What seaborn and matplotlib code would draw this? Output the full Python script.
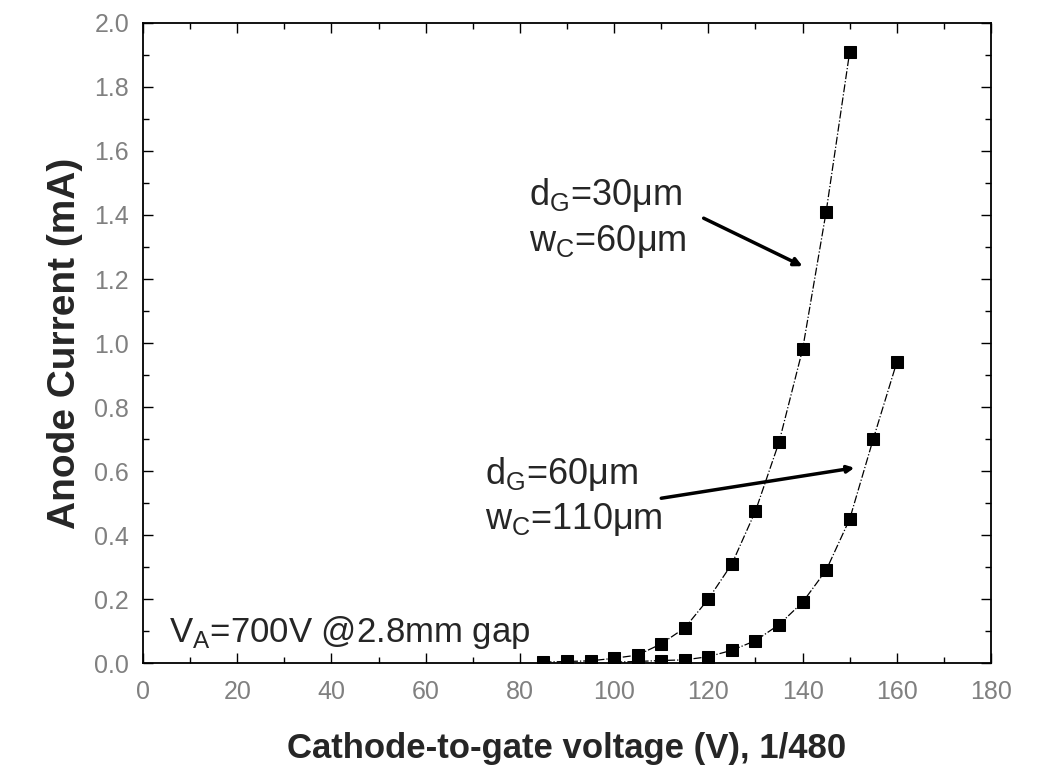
import matplotlib
matplotlib.use("Agg")
from matplotlib import pyplot as plt
from matplotlib.ticker import MultipleLocator
import numpy as np
import seaborn as sns
import pandas as pd

# data
volt_30 = [85, 90, 95, 100, 105, 110, 115, 120, 125, 130, 135, 140, 145, 150]
curr_30 = [0.003, 0.005, 0.007, 0.015, 0.025, 0.06, 0.11, 0.20, 0.31, 0.475, 0.69, 0.98, 1.41, 1.91]

volt_60 = [100, 105, 110, 115, 120, 125, 130, 135, 140, 145, 150, 155, 160]
curr_60 = [0.003, 0.005, 0.008, 0.01, 0.02, 0.04, 0.07, 0.12, 0.19, 0.29, 0.45, 0.70, 0.94]

x_ticks = [0, 20, 40, 60, 80, 100, 120, 140, 160, 180]
y_ticks = [0.0, 0.2, 0.4, 0.6, 0.8, 1.0, 1.2, 1.4, 1.6, 1.8, 2.0]

sns.set_theme(style="ticks")
plt.rcParams['font.family'] = ['Liberation Sans', 'DejaVu Sans']

df30 = pd.DataFrame({'voltage': volt_30, 'current': curr_30})
df60 = pd.DataFrame({'voltage': volt_60, 'current': curr_60})

fig = plt.figure(figsize=(10.41, 7.81), dpi=100)
ax = fig.add_axes([0.1374, 0.151, 0.8146, 0.8196])

for d in (df30, df60):
    sns.lineplot(data=d, x='voltage', y='current', ax=ax, color='black',
                 linestyle='-.', linewidth=0.9, marker='s', markersize=8.5,
                 markeredgecolor='black', markerfacecolor='black')

ax.set_xlim(0, 180)
ax.set_ylim(0, 2.0)
ax.set_xticks(x_ticks)
ax.set_yticks(y_ticks)
ax.set_xticklabels([str(t) for t in x_ticks])
ax.set_yticklabels(['%.1f' % t for t in y_ticks])
ax.xaxis.set_minor_locator(MultipleLocator(10))
ax.yaxis.set_minor_locator(MultipleLocator(0.1))
ax.tick_params(which='both', direction='in', top=True, right=True,
               labelsize=18, labelcolor='#808080', color='black')
ax.tick_params(which='major', length=7, width=1)
ax.tick_params(which='minor', length=4, width=1)
ax.tick_params(axis='x', pad=12)
ax.tick_params(axis='y', pad=10)
for s in ax.spines.values():
    s.set_color('black')
    s.set_linewidth(1.3)

ax.set_xlabel('Cathode-to-gate voltage (V), 1/480', fontsize=25,
              fontweight='bold', labelpad=20,
              family=['Liberation Sans Narrow', 'Liberation Sans', 'DejaVu Sans'])
ax.set_ylabel('Anode Current (mA)', fontsize=28, fontweight='bold', labelpad=8)

# annotations
ax.text(82, 1.39, 'd$_{\\mathregular{G}}$=30\u03bcm\nw$_{\\mathregular{C}}$=60\u03bcm',
        fontsize=26, ha='left', va='center', linespacing=1.3)
ax.annotate('', xy=(140, 1.24), xytext=(119, 1.39),
            arrowprops=dict(arrowstyle='-|>', color='black', lw=2.5,
                            mutation_scale=12, shrinkA=0, shrinkB=0))

ax.text(72.5, 0.52, 'd$_{\\mathregular{G}}$=60\u03bcm\nw$_{\\mathregular{C}}$=110\u03bcm',
        fontsize=26, ha='left', va='center', linespacing=1.3)
ax.annotate('', xy=(151, 0.61), xytext=(110, 0.515),
            arrowprops=dict(arrowstyle='-|>', color='black', lw=2.5,
                            mutation_scale=10, shrinkA=0, shrinkB=0))

ax.text(5.5, 0.095, 'V$_{\\mathregular{A}}$=700V @2.8mm gap', fontsize=25,
        ha='left', va='center')

fig.savefig('out.png', dpi=100)
